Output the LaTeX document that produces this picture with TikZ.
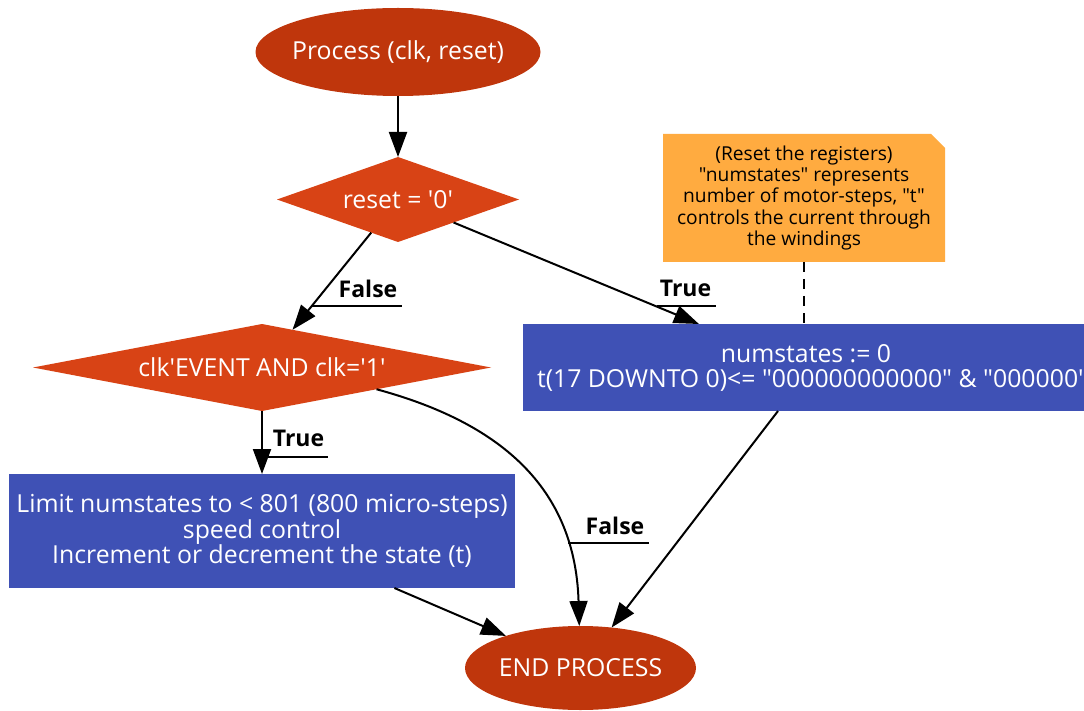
\documentclass[tikz,border=0pt]{standalone}
\usepackage{fontspec}
\setmainfont{Open Sans}[Ligatures=TeXOff]
\usetikzlibrary{shapes.geometric,arrows.meta,backgrounds}

\definecolor{procred}{HTML}{BF360C}
\definecolor{decorange}{HTML}{D84315}
\definecolor{actblue}{HTML}{3F51B5}
\definecolor{noteamber}{HTML}{FFAB40}

\tikzset{
  base/.style={inner sep=0pt, outer sep=0pt, text=white,
    font=\fontsize{24.8}{25.5}\selectfont},
  terminal/.style={base, ellipse, fill=procred},
  decision/.style={base, diamond, fill=decorange},
  action/.style={base, rectangle, fill=actblue, align=center},
  notebox/.style={base, text=black, align=center,
    font=\fontsize{19.2}{21.3}\selectfont},
  edge/.style={line width=2pt, -{Triangle[length=25pt,width=18pt]}},
  link/.style={line width=2pt, dash pattern=on 10pt off 7pt},
  elabel/.style={inner sep=0pt, font=\fontsize{23}{25}\selectfont\bfseries},
  uline/.style={line width=2pt},
}

\begin{document}
\begin{tikzpicture}[x=1pt,y=-1pt]
\useasboundingbox (0,0) rectangle (1084,711);
\clip (0,0) rectangle (1084,711);

% process entry and exit
\node[terminal, minimum width=285pt, minimum height=88pt] (start) at (398,52)
  {\makebox[0pt]{Process (clk, reset)}};
\node[terminal, minimum width=231pt, minimum height=84pt] (stop) at (580.5,668)
  {\makebox[0pt]{END PROCESS}};

% decisions
\node[decision, aspect=2.85, minimum width=242pt, minimum height=85pt] (rst) at (398,199.5)
  {reset = '0'};
\node[decision, aspect=5.26, minimum width=458pt, minimum height=87pt] (clk) at (262,367.5)
  {clk'EVENT AND clk='1'};

% actions
\node[action, minimum width=506pt, minimum height=114pt] (lbox) at (262,531)
  {Limit numstates to < 801 (800 micro-steps)\\speed control\\Increment or decrement the state (t)};
\node[action, minimum width=562pt, minimum height=87pt] (rbox) at (804,367.5) {};
\node[base, anchor=base] (rline1) at (806,362) {numstates := 0};
\node[base, anchor=base west] (rline2) at (537,387)
  {t(17 DOWNTO 0)<= "000000000000" \& "000000"};

% comment note with a cut corner
\node[notebox, minimum width=282pt, minimum height=128pt] (note) at (804,198)
  {(Reset the registers)\\"numstates" represents\\number of motor-steps, "t"\\controls the current through\\the windings};
\begin{scope}[on background layer]
  \fill[noteamber] (note.south west) -- (note.north west)
    -- ([xshift=-14pt]note.north east) -- ([yshift=-14pt]note.north east)
    -- (note.south east) -- cycle;
\end{scope}
\draw[link] (note) -- (rbox);

% control flow
\draw[edge] (start) -- (rst);
\draw[edge] (rst) -- (clk);
\draw[edge] (rst) -- (rbox);
\draw[edge] (clk.south) -- (clk.south |- lbox.north);
\draw[edge] (clk.south east) .. controls (490,420) and (575,480) .. (stop);
\draw[edge] (lbox) -- (stop);
\draw[edge] ([xshift=-26pt]rbox.south) -- (stop);

% branch labels
\node[elabel] (lf1) at (368,288.5) {False};
\coordinate (lf1a) at (312,306);
\coordinate (lf1b) at (402,306);
\draw[uline] (lf1a) -- (lf1b);

\node[elabel] (lt1) at (685.5,288.5) {True};
\coordinate (lt1a) at (657,306);
\coordinate (lt1b) at (716,306);
\draw[uline] (lt1a) -- (lt1b);

\node[elabel] (lt2) at (298.5,438.5) {True};
\coordinate (lt2a) at (262,457);
\coordinate (lt2b) at (328,457);
\draw[uline] (lt2a) -- (lt2b);

\node[elabel] (lf2) at (615,526) {False};
\coordinate (lf2a) at (568,543);
\coordinate (lf2b) at (649,543);
\draw[uline] (lf2a) -- (lf2b);
\end{tikzpicture}
\end{document}
